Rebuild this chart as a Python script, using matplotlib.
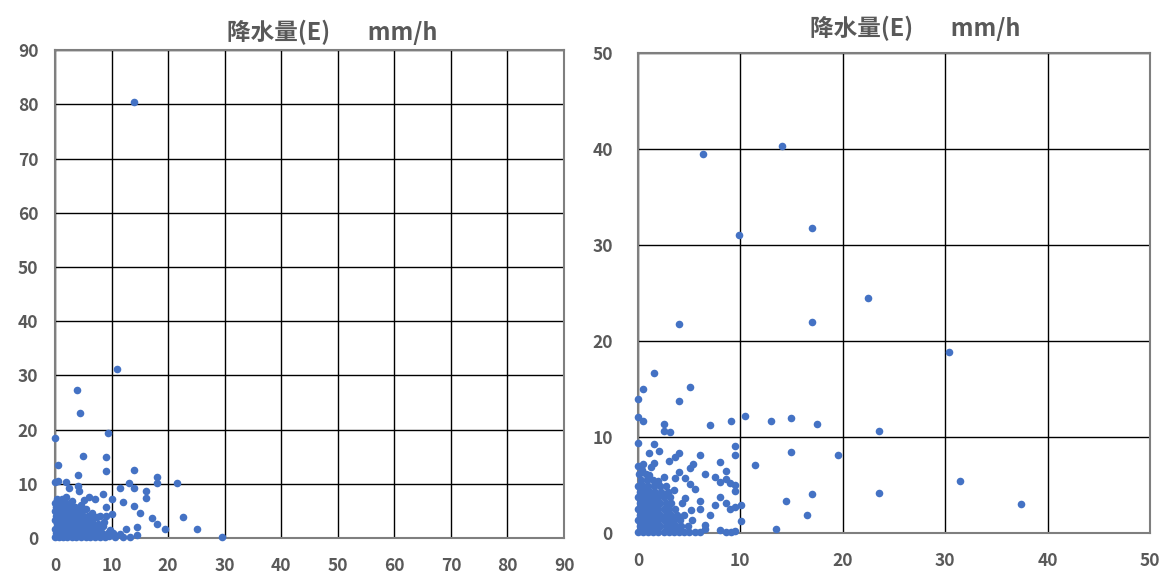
import matplotlib
matplotlib.use("Agg")
import matplotlib.pyplot as plt

plt.rcParams['font.family'] = ['Noto Sans CJK SC', 'DejaVu Sans']

title = "降水量(E)       mm/h"

# left panel: sparse points
left_x = [14.0, 11.0, 3.9, 4.4, 9.4, 0.0, 4.9, 9.0, 0.5, 9.0, 14.0, 4.1, 18.0, 18.0, 21.5, 0.0,
          1.9, 13.1, 11.5, 14.0, 16.1, 16.1, 8.5, 2.5, 4.1, 4.2, 6.0, 7.1, 10.1, 12.0, 14.0, 15.0,
          17.1, 18.0, 19.4, 22.6, 25.1, 29.5, 12.5, 14.5, 14.5, 13.2, 11.5, 9.0, 10.1, 9.0, 8.0,
          8.5, 9.7, 0.5]
left_y = [80.5, 31.2, 27.3, 23.1, 19.3, 18.4, 15.1, 15.0, 13.5, 12.4, 12.6, 11.6, 11.2, 10.1, 10.1, 10.4,
          10.3, 10.1, 9.2, 9.2, 8.7, 7.4, 8.1, 9.2, 9.6, 8.7, 7.6, 7.2, 7.2, 6.6, 5.9, 4.6,
          3.7, 2.6, 1.7, 3.9, 1.7, 0.1, 1.7, 2.0, 0.6, 0.1, 0.7, 5.7, 4.4, 4.1, 4.1,
          2.2, 1.5, 10.6]

# left panel: dense cluster near the origin
left_cx = [0, 0.7, 1.5, 2.2, 3.0, 3.8, 4.6, 5.4, 6.2, 7.0, 7.9, 8.8, 10.6, 12.1,
           0.2, 1.0, 1.8, 2.6, 3.4, 4.2, 5.0, 5.8, 6.6, 7.4, 8.3, 9.3,
           0, 0.6, 1.4, 2.2, 3.0, 3.8, 4.6, 5.4, 6.2, 7.1, 8.0,
           0.3, 1.1, 1.9, 2.7, 3.5, 4.3, 5.1, 5.9, 6.8, 7.6,
           0, 0.8, 1.6, 2.4, 3.2, 4.0, 4.8, 5.6, 6.5,
           0.2, 1.0, 1.8, 2.6, 3.4, 4.2, 5.0, 5.9,
           0, 0.7, 1.5, 2.3, 3.1, 4.0, 4.8,
           0.2, 1.0, 1.8, 2.6, 3.5,
           0, 0.8, 1.7, 2.6,
           0.3, 1.2,
           3.1, 4.6, 5.5, 6.6, 7.5, 8.7, 9.5, 10.2, 5.2, 2.0]
left_cy = [0.1, 0.1, 0.1, 0.1, 0.1, 0.1, 0.1, 0.1, 0.1, 0.1, 0.1, 0.1, 0.1, 0.1,
           0.9, 0.9, 0.9, 0.9, 0.9, 0.9, 0.9, 0.9, 0.9, 0.9, 0.9, 0.9,
           1.7, 1.7, 1.7, 1.7, 1.7, 1.7, 1.7, 1.7, 1.7, 1.7, 1.7,
           2.5, 2.5, 2.5, 2.5, 2.5, 2.5, 2.5, 2.5, 2.5, 2.5,
           3.3, 3.3, 3.3, 3.3, 3.3, 3.3, 3.3, 3.3, 3.3,
           4.1, 4.1, 4.1, 4.1, 4.1, 4.1, 4.1, 4.1,
           4.9, 4.9, 4.9, 4.9, 4.9, 4.9, 4.9,
           5.7, 5.7, 5.7, 5.7, 5.7,
           6.5, 6.5, 6.5, 6.5,
           7.2, 7.2,
           6.9, 6.0, 5.3, 4.7, 3.8, 2.9, 0.4, 1.0, 7.0, 7.6]

# right panel: sparse points
right_x = [14.1, 6.4, 17.0, 9.9, 22.5, 4.0, 17.0, 30.4, 1.6, 0.5, 5.1, 0.0, 4.0, 0.0, 0.5,
           2.5, 2.5, 3.1, 7.0, 9.1, 10.5, 13.0, 14.9, 17.5, 23.5, 0.0, 1.6, 9.5, 9.5, 14.9,
           19.5, 11.4, 6.1, 4.0, 3.6, 3.0, 2.1, 1.1, 0.5, 1.6, 8.0, 5.4, 5.1, 8.6, 6.5,
           4.0, 2.5, 3.6, 4.6, 7.5, 8.0, 8.6, 9.0, 9.5, 9.5, 5.1, 5.6, 8.0, 8.6, 7.5,
           6.1, 6.1, 9.5, 10.1, 9.0, 7.0, 10.1, 6.5, 6.5, 8.0, 8.6, 9.1, 9.5, 5.6, 6.1,
           13.5, 17.0, 14.5, 16.5, 23.5, 31.4, 37.4]
right_y = [40.3, 39.5, 31.8, 31.0, 24.5, 21.8, 22.0, 18.8, 16.7, 15.0, 15.2, 13.9, 13.7, 12.1, 11.7,
           11.3, 10.6, 10.5, 11.2, 11.7, 12.2, 11.7, 12.0, 11.3, 10.6, 9.4, 9.3, 9.1, 8.1, 8.4,
           8.1, 7.1, 8.1, 8.3, 7.9, 7.5, 8.5, 8.3, 7.2, 7.3, 7.4, 7.2, 6.8, 6.5, 6.1,
           6.3, 5.8, 5.7, 5.7, 5.8, 5.3, 5.6, 5.2, 5.0, 4.4, 5.1, 4.6, 3.7, 3.1, 2.9,
           3.3, 2.5, 2.7, 2.9, 2.5, 1.9, 1.2, 0.8, 0.4, 0.3, 0.1, 0.1, 0.2, 0.1, 0.1,
           0.4, 4.1, 3.3, 1.9, 4.2, 5.4, 3.0]

# right panel: dense cluster near the origin
right_cx = [0, 0.5, 1.0, 1.5, 2.0, 2.5, 3.0, 3.5, 4.0, 4.5, 5.0,
            0.2, 0.7, 1.2, 1.7, 2.2, 2.7, 3.2, 3.7, 4.2, 4.9,
            0, 0.5, 1.0, 1.5, 2.0, 2.5, 3.0, 3.5, 4.1, 5.3,
            0.2, 0.7, 1.2, 1.7, 2.2, 2.7, 3.2, 3.8, 4.5,
            0, 0.5, 1.0, 1.5, 2.0, 2.5, 3.0, 3.6,
            0.2, 0.7, 1.2, 1.7, 2.2, 2.7, 3.2, 4.3,
            0, 0.5, 1.0, 1.5, 2.0, 2.5, 3.1,
            0.2, 0.7, 1.2, 1.7, 2.3, 2.9,
            0, 0.5, 1.0, 1.6, 2.2,
            0.3, 0.9, 1.5,
            0.1, 0.8,
            0.4, 1.1, 2.0, 2.7, 3.5, 4.6, 5.2, 0.0, 1.3]
right_cy = [0.1, 0.1, 0.1, 0.1, 0.1, 0.1, 0.1, 0.1, 0.1, 0.1, 0.1,
            0.7, 0.7, 0.7, 0.7, 0.7, 0.7, 0.7, 0.7, 0.7, 0.7,
            1.3, 1.3, 1.3, 1.3, 1.3, 1.3, 1.3, 1.3, 1.3, 1.3,
            1.9, 1.9, 1.9, 1.9, 1.9, 1.9, 1.9, 1.9, 1.9,
            2.5, 2.5, 2.5, 2.5, 2.5, 2.5, 2.5, 2.5,
            3.1, 3.1, 3.1, 3.1, 3.1, 3.1, 3.1, 3.1,
            3.7, 3.7, 3.7, 3.7, 3.7, 3.7, 3.7,
            4.3, 4.3, 4.3, 4.3, 4.3, 4.3,
            4.9, 4.9, 4.9, 4.9, 4.9,
            5.5, 5.5, 5.5,
            6.1, 6.1,
            6.6, 6.0, 5.4, 4.9, 4.5, 3.6, 2.4, 7.0, 6.9]

left_ticks = [0, 10, 20, 30, 40, 50, 60, 70, 80, 90]
right_ticks = [0, 10, 20, 30, 40, 50]

blue = '#4472C4'
grey = '#595959'

fig = plt.figure(figsize=(11.62, 5.76), dpi=100)
ax1 = fig.add_axes([0.0473, 0.066, 0.4381, 0.847])
ax2 = fig.add_axes([0.549, 0.0747, 0.4407, 0.8338])


def style(ax, ticks, ypad, xpad):
    ax.set_xlim(ticks[0], ticks[-1])
    ax.set_ylim(ticks[0], ticks[-1])
    ax.set_xticks(ticks)
    ax.set_yticks(ticks)
    ax.grid(True, color='black', linewidth=1.0)
    ax.set_axisbelow(True)
    for sp in ax.spines.values():
        sp.set_color('#7f7f7f')
        sp.set_linewidth(1.5)
    ax.tick_params(length=0, labelsize=12.5, labelcolor=grey)
    ax.tick_params(axis='y', pad=ypad)
    ax.tick_params(axis='x', pad=xpad)
    for lab in ax.get_xticklabels() + ax.get_yticklabels():
        lab.set_fontweight('bold')


ax1.scatter(left_cx, left_cy, s=30, color=blue, clip_on=False, zorder=3, linewidths=0)
ax1.scatter(left_x, left_y, s=30, color=blue, clip_on=False, zorder=3, linewidths=0)
style(ax1, left_ticks, 12, 14)

ax2.scatter(right_cx, right_cy, s=30, color=blue, clip_on=False, zorder=3, linewidths=0)
ax2.scatter(right_x, right_y, s=30, color=blue, clip_on=False, zorder=3, linewidths=0)
style(ax2, right_ticks, 18, 14)

fig.text(0.286, 0.944, title, ha='center', va='center', fontsize=17,
         fontweight='bold', color=grey)
fig.text(0.788, 0.951, title, ha='center', va='center', fontsize=17,
         fontweight='bold', color=grey)

fig.savefig('out.png', dpi=100)
